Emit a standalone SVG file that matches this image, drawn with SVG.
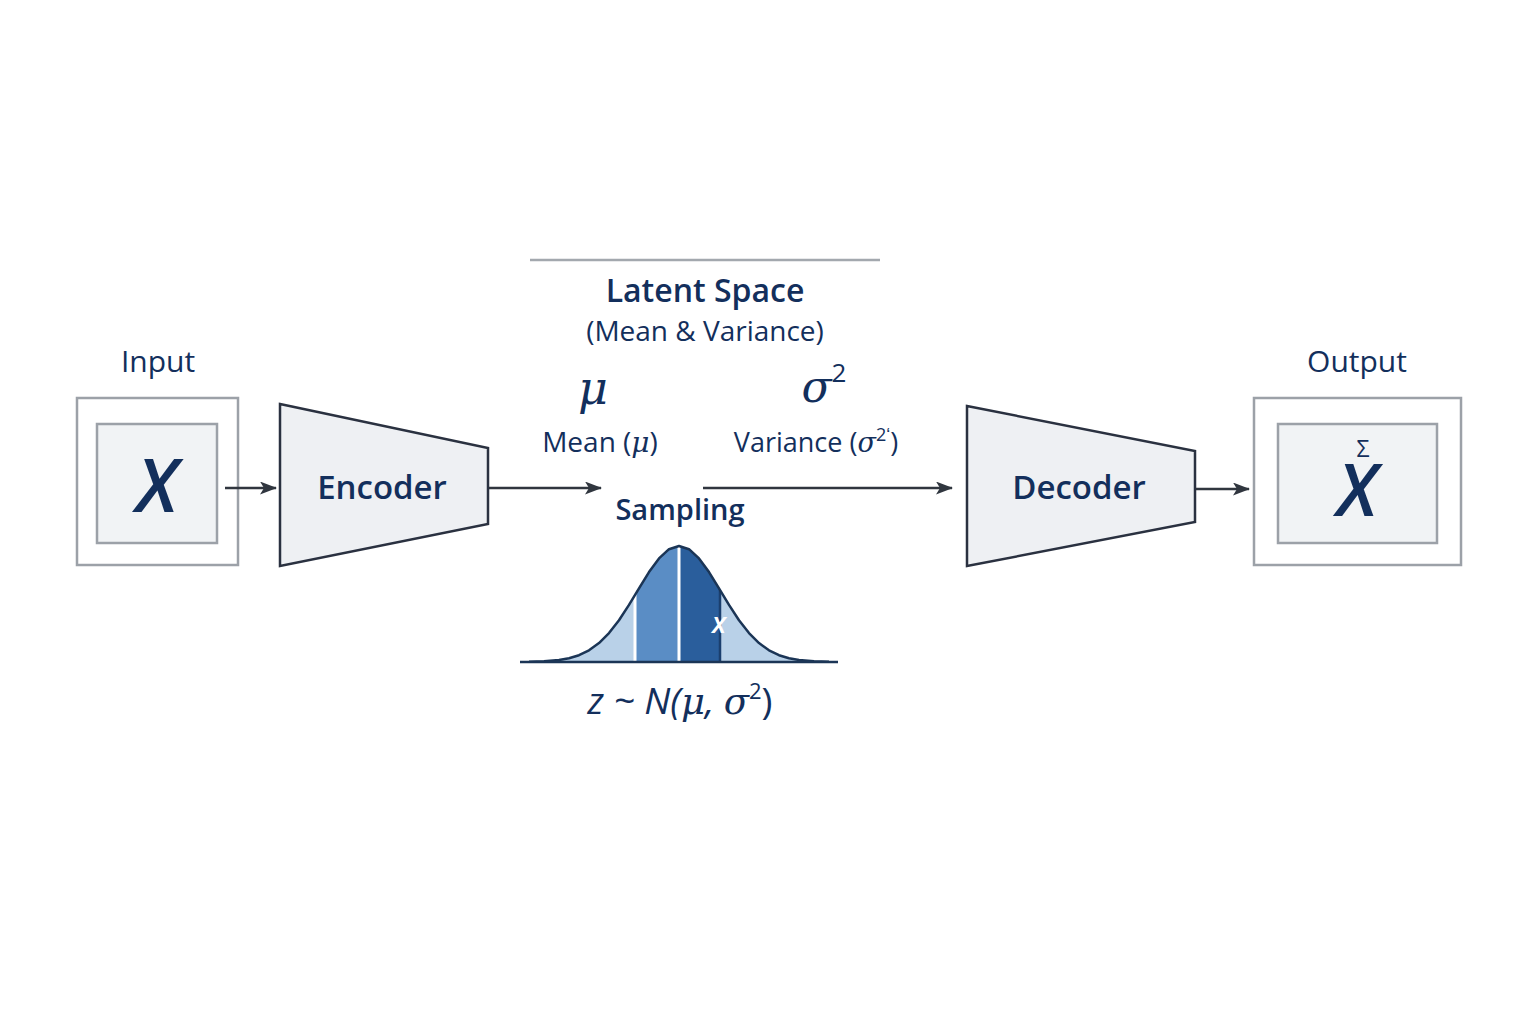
<svg xmlns="http://www.w3.org/2000/svg" width="1536" height="1024" viewBox="0 0 1536 1024">
<style>
  .t { font-family: "Open Sans", "Liberation Sans", sans-serif; fill: #132f5c; text-anchor: middle; }
  .m { font-family: "DejaVu Serif", "Liberation Serif", serif; font-style: italic; fill: #132f5c; text-anchor: middle; }
  .outer { fill: #ffffff; stroke: #9ca1a8; stroke-width: 2.5; }
  .inner { fill: #f1f3f5; stroke: #9ca1a8; stroke-width: 2.5; }
  .trap { fill: #eef0f3; stroke: #2a3140; stroke-width: 2.5; }
  .conn { stroke: #30363f; stroke-width: 2.4; fill: none; }
</style>
<defs>
  <marker id="ah" viewBox="0 0 17 13" refX="16" refY="6.5" markerWidth="17" markerHeight="13" markerUnits="userSpaceOnUse" orient="auto">
    <path d="M0,0 L17,6.5 L0,13 L4,6.5 Z" fill="#30363f"/>
  </marker>
  <clipPath id="bell">
    <polygon points="520,662 529,661.8 544,661.3 559,660 569,658.2 579,655.2 589,650.3 599,643.1 609,633.1 619,620.2 629,604.9 639,588.3 649,572.1 659,558.4 669,549.2 679,546 689,549.2 699,558.4 709,572.1 719,588.3 729,604.9 739,620.2 749,633.1 759,643.1 769,650.3 779,655.2 789,658.2 799,660 814,661.3 829,661.8 838,662"/>
  </clipPath>
</defs>
<rect width="1536" height="1024" fill="#ffffff"/>

<g id="input">
  <text class="t" x="158" y="372" font-size="30">Input</text>
  <rect class="outer" x="77" y="398" width="161" height="167"/>
  <rect class="inner" x="97" y="424" width="120" height="119"/>
  <text class="t" x="157" y="512" font-size="74" font-style="italic" font-weight="600" fill="#12336b">X</text>
</g>

<g id="encoder">
  <polygon class="trap" points="280,404 488,448 488,524 280,566"/>
  <text class="t" x="382" y="499" font-size="33" font-weight="600">Encoder</text>
</g>

<g id="latent">
  <line x1="530" y1="260" x2="880" y2="260" stroke="#a3a8ae" stroke-width="2.5"/>
  <text class="t" x="705" y="302" font-size="32" font-weight="600">Latent Space</text>
  <text class="t" x="705" y="341" font-size="28">(Mean &amp; Variance)</text>
  <text class="m" x="593" y="404" font-size="46">μ</text>
  <text class="m" x="824" y="402" font-size="44">σ<tspan font-size="26" font-style="normal" dy="-20" font-family="Open Sans, sans-serif">2</tspan></text>
  <text class="t" x="600" y="452" font-size="28">Mean (<tspan font-family="DejaVu Serif, serif" font-style="italic">μ</tspan>)</text>
  <text class="t" x="816" y="452" font-size="27">Variance (<tspan font-family="DejaVu Serif, serif" font-style="italic">σ</tspan><tspan font-size="18" dy="-11">2ʻ</tspan><tspan dy="11">)</tspan></text>
</g>

<g id="sampling">
  <text class="t" x="680" y="520" font-size="29" font-weight="600">Sampling</text>
  <g clip-path="url(#bell)">
    <rect x="520" y="540" width="320" height="125" fill="#b9d1e8"/>
    <rect x="635" y="540" width="44" height="125" fill="#5a8dc5"/>
    <rect x="679" y="540" width="41" height="125" fill="#2a5e9c"/>
    <line x1="635" y1="540" x2="635" y2="662" stroke="#ffffff" stroke-width="3"/>
    <line x1="679" y1="540" x2="679" y2="662" stroke="#ffffff" stroke-width="3"/>
    <line x1="720" y1="540" x2="720" y2="662" stroke="#1b3f6e" stroke-width="2.5"/>
  </g>
  <polyline points="529,661.8 544,661.3 559,660 569,658.2 579,655.2 589,650.3 599,643.1 609,633.1 619,620.2 629,604.9 639,588.3 649,572.1 659,558.4 669,549.2 679,546 689,549.2 699,558.4 709,572.1 719,588.3 729,604.9 739,620.2 749,633.1 759,643.1 769,650.3 779,655.2 789,658.2 799,660 814,661.3 829,661.8" fill="none" stroke="#1b3556" stroke-width="2.5" stroke-linejoin="round"/>
  <line x1="520" y1="662" x2="838" y2="662" stroke="#1b3556" stroke-width="2.5"/>
  <text x="719" y="633" font-family="Open Sans, sans-serif" font-size="28" font-style="italic" font-weight="600" fill="#ffffff" text-anchor="middle">x</text>
  <text class="t" x="680" y="714" font-size="37" font-style="italic">z ~ N(<tspan font-family="DejaVu Serif, serif">μ</tspan>, <tspan font-family="DejaVu Serif, serif">σ</tspan><tspan font-size="22" font-style="normal" dy="-15">2</tspan><tspan dy="15" font-style="normal">)</tspan></text>
</g>

<g id="decoder">
  <polygon class="trap" points="967,406 1195,451 1195,522 967,566"/>
  <text class="t" x="1079" y="499" font-size="33" font-weight="600">Decoder</text>
</g>

<g id="output">
  <text class="t" x="1357" y="372" font-size="30">Output</text>
  <rect class="outer" x="1254" y="398" width="207" height="167"/>
  <rect class="inner" x="1278" y="424" width="159" height="119"/>
  <text class="t" x="1363" y="457" font-size="23" fill="#12336b">Σ</text>
  <text class="t" x="1357" y="516" font-size="72" font-style="italic" font-weight="600" fill="#12336b">X</text>
</g>

<g id="connectors">
  <line class="conn" x1="225" y1="488" x2="276" y2="488" marker-end="url(#ah)"/>
  <line class="conn" x1="489" y1="488" x2="601" y2="488" marker-end="url(#ah)"/>
  <line class="conn" x1="703" y1="488" x2="952" y2="488" marker-end="url(#ah)"/>
  <line class="conn" x1="1196" y1="489" x2="1249" y2="489" marker-end="url(#ah)"/>
</g>
</svg>
